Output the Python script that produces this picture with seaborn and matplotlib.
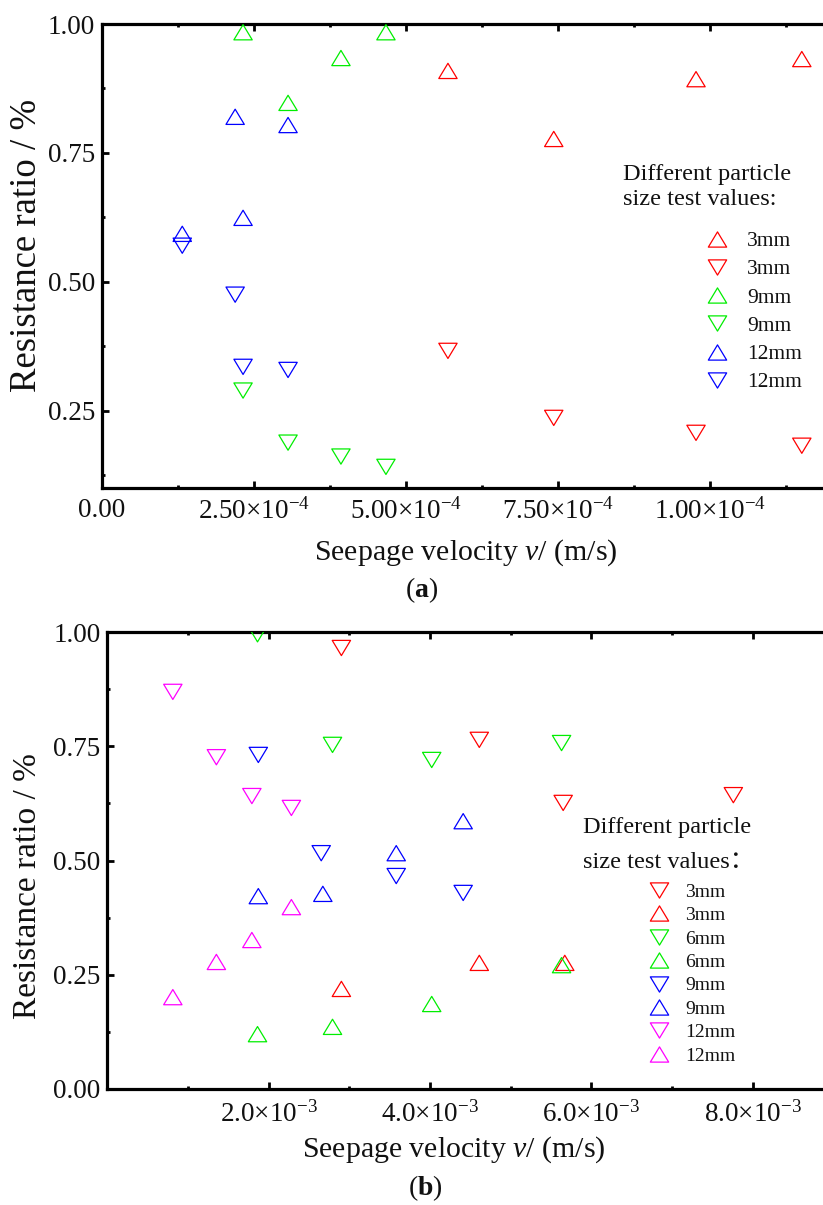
import matplotlib
matplotlib.use("Agg")
import matplotlib.pyplot as plt
from matplotlib.path import Path
from matplotlib.lines import Line2D
from matplotlib.ticker import FixedLocator
import seaborn as sns

# ---------------- panel (a): particle sizes 3, 9, 12 mm ----------------
a_x_3mm = [5.69e-4, 7.43e-4, 9.77e-4, 1.151e-3]
a_up_3mm = [0.909, 0.777, 0.893, 0.932]
a_down_3mm = [0.366, 0.236, 0.207, 0.182]

a_x_9mm = [2.32e-4, 3.06e-4, 3.93e-4, 4.67e-4]
a_up_9mm = [0.984, 0.847, 0.934, 0.984]
a_down_9mm = [0.289, 0.188, 0.161, 0.141]

a_x_12mm = [1.32e-4, 2.19e-4, 2.32e-4, 3.06e-4]
a_up_12mm = [0.593, 0.820, 0.624, 0.804]
a_down_12mm = [0.570, 0.475, 0.335, 0.329]

a_xticks = [0.0, 2.5e-4, 5.0e-4, 7.5e-4, 1.0e-3]
a_xticklabels = ["0.00",
                 r"$\mathregular{2.50{\times}10^{-4}}$",
                 r"$\mathregular{5.00{\times}10^{-4}}$",
                 r"$\mathregular{7.50{\times}10^{-4}}$",
                 r"$\mathregular{1.00{\times}10^{-4}}$"]
a_xminor = [1.25e-4, 3.75e-4, 6.25e-4, 8.75e-4, 1.125e-3]
a_yticks = [0.25, 0.50, 0.75, 1.00]
a_yticklabels = ["0.25", "0.50", "0.75", "1.00"]
a_yminor = [0.125, 0.375, 0.625, 0.875]

# ---------------- panel (b): particle sizes 3, 6, 9, 12 mm ----------------
b_x_down_3mm = [2.90e-3, 4.61e-3, 5.65e-3, 7.76e-3]
b_down_3mm = [0.965, 0.764, 0.626, 0.643]
b_x_up_3mm = [2.90e-3, 4.61e-3, 5.67e-3]
b_up_3mm = [0.219, 0.276, 0.276]

b_x_6mm = [1.86e-3, 2.79e-3, 4.02e-3, 5.63e-3]
b_down_6mm = [0.995, 0.753, 0.720, 0.757]
b_up_6mm = [0.120, 0.136, 0.186, 0.271]

b_x_down_9mm = [1.87e-3, 2.65e-3, 3.58e-3, 4.41e-3]
b_down_9mm = [0.731, 0.516, 0.466, 0.429]
b_x_up_9mm = [1.87e-3, 2.67e-3, 3.58e-3, 4.41e-3]
b_up_9mm = [0.422, 0.427, 0.516, 0.586]

b_x_12mm = [0.81e-3, 1.35e-3, 1.79e-3, 2.28e-3]
b_down_12mm = [0.869, 0.726, 0.641, 0.615]
b_up_12mm = [0.201, 0.278, 0.326, 0.398]

b_xticks = [2e-3, 4e-3, 6e-3, 8e-3]
b_xticklabels = [r"$\mathregular{2.0{\times}10^{-3}}$",
                 r"$\mathregular{4.0{\times}10^{-3}}$",
                 r"$\mathregular{6.0{\times}10^{-3}}$",
                 r"$\mathregular{8.0{\times}10^{-3}}$"]
b_xminor = [1e-3, 3e-3, 5e-3, 7e-3]
b_yticks = [0.00, 0.25, 0.50, 0.75, 1.00]
b_yticklabels = ["0.00", "0.25", "0.50", "0.75", "1.00"]
b_yminor = [0.125, 0.375, 0.625, 0.875]

RED, GREEN, BLUE, MAGENTA = "#ff0000", "#00ee00", "#0000ff", "#ff00ff"

sns.set_theme(style="ticks")
plt.rcParams.update({
    "font.family": ["Liberation Serif", "DejaVu Serif"],
    "mathtext.fontset": "custom",
    "mathtext.rm": "Liberation Serif",
    "mathtext.it": "Liberation Serif:italic",
    "mathtext.bf": "Liberation Serif:bold",
    "text.color": "#111111",
    "axes.edgecolor": "black",
    "axes.linewidth": 2.3,
    "xtick.color": "black",
    "ytick.color": "black",
    "xtick.labelcolor": "#111111",
    "ytick.labelcolor": "#111111",
})

# open triangles, a little wider than tall
H_TRI = 0.83
UP = Path([(0, H_TRI), (-1, -H_TRI), (1, -H_TRI), (0, H_TRI)], closed=True)
DOWN = Path([(0, -H_TRI), (-1, H_TRI), (1, H_TRI), (0, -H_TRI)], closed=True)
MS = 13.2          # marker width in points
LW = 0.9

W, H = 823, 1205
fig = plt.figure(figsize=(W / 100, H / 100), dpi=100)
fig.patch.set_facecolor("white")


def axes_px(left, top, right, bottom):
    return fig.add_axes([left / W, 1 - bottom / H, (right - left) / W, (bottom - top) / H])


def draw(ax, xs, ys, marker, color):
    sns.scatterplot(x=xs, y=ys, ax=ax, marker=marker, s=MS ** 2,
                    facecolor="none", edgecolor=color, linewidth=LW,
                    legend=False, zorder=3)


def handle(marker, color):
    return Line2D([], [], linestyle="none", marker=marker, markersize=MS,
                  markerfacecolor="none", markeredgecolor=color,
                  markeredgewidth=LW)


def style_axes(ax, xlim, ylim, xt, xtl, xmin, yt, ytl, ymin, xpad, ypad):
    ax.set_facecolor("white")
    ax.set_xlim(*xlim)
    ax.set_ylim(*ylim)
    ax.set_xticks(xt, xtl)
    ax.set_yticks(yt, ytl)
    ax.xaxis.set_minor_locator(FixedLocator(xmin))
    ax.yaxis.set_minor_locator(FixedLocator(ymin))
    ax.tick_params(which="both", direction="in", top=True, right=False,
                   labeltop=False, labelright=False)
    ax.tick_params(which="major", length=5, width=2.0, labelsize=19.5)
    ax.tick_params(which="minor", length=2.2, width=2.0)
    ax.tick_params(axis="x", which="major", pad=xpad)
    ax.tick_params(axis="y", which="major", pad=ypad)
    ax.set_xlabel("")
    ax.set_ylabel("")
    for sp in ax.spines.values():
        sp.set_linewidth(2.3)


# ---------------- panel (a) ----------------
ax_a = axes_px(102, 24, 102 + 5 * 152, 488)
draw(ax_a, a_x_3mm, a_up_3mm, UP, RED)
draw(ax_a, a_x_3mm, a_down_3mm, DOWN, RED)
draw(ax_a, a_x_9mm, a_up_9mm, UP, GREEN)
draw(ax_a, a_x_9mm, a_down_9mm, DOWN, GREEN)
draw(ax_a, a_x_12mm, a_up_12mm, UP, BLUE)
draw(ax_a, a_x_12mm, a_down_12mm, DOWN, BLUE)
style_axes(ax_a, (0, 1.25e-3), (0.10, 1.00), a_xticks, a_xticklabels, a_xminor,
           a_yticks, a_yticklabels, a_yminor, xpad=7, ypad=5)

a_handles = [handle(UP, RED), handle(DOWN, RED), handle(UP, GREEN),
             handle(DOWN, GREEN), handle(UP, BLUE), handle(DOWN, BLUE)]
a_labels = ["3mm", "3mm", "9mm", "9mm", "12mm", "12mm"]
ax_a.legend(a_handles, a_labels, loc="upper left",
            bbox_to_anchor=(706 / W, 1 - 231 / H), bbox_transform=fig.transFigure,
            frameon=False, fontsize=15.5, handlelength=1.0, handletextpad=0.9,
            labelspacing=0.38, borderpad=0, borderaxespad=0)
fig.text(623 / W, 1 - 180 / H, "Different particle", fontsize=17.5,
         ha="left", va="baseline")
fig.text(623 / W, 1 - 205 / H, "size test values:", fontsize=17.5,
         ha="left", va="baseline")

fig.text(27 / W, 1 - 245 / H, "Resistance ratio / %", rotation=90,
         fontsize=26.5, ha="center", va="center")
fig.text(466 / W, 1 - 553 / H, r"Seepage velocity $v$/ (m/s)", fontsize=21.5,
         ha="center", va="center")
fig.text(422 / W, 1 - 590 / H, r"($\mathbf{a}$)", fontsize=20,
         ha="center", va="center")

# ---------------- panel (b) ----------------
ax_b = axes_px(107.5, 632, 107.5 + 4.5 * 161.3, 1089)
draw(ax_b, b_x_down_3mm, b_down_3mm, DOWN, RED)
draw(ax_b, b_x_up_3mm, b_up_3mm, UP, RED)
draw(ax_b, b_x_6mm, b_down_6mm, DOWN, GREEN)
draw(ax_b, b_x_6mm, b_up_6mm, UP, GREEN)
draw(ax_b, b_x_down_9mm, b_down_9mm, DOWN, BLUE)
draw(ax_b, b_x_up_9mm, b_up_9mm, UP, BLUE)
draw(ax_b, b_x_12mm, b_down_12mm, DOWN, MAGENTA)
draw(ax_b, b_x_12mm, b_up_12mm, UP, MAGENTA)
style_axes(ax_b, (0, 9e-3), (0.0, 1.0), b_xticks, b_xticklabels, b_xminor,
           b_yticks, b_yticklabels, b_yminor, xpad=9, ypad=5)

b_handles = [handle(DOWN, RED), handle(UP, RED), handle(DOWN, GREEN),
             handle(UP, GREEN), handle(DOWN, BLUE), handle(UP, BLUE),
             handle(DOWN, MAGENTA), handle(UP, MAGENTA)]
b_labels = ["3mm", "3mm", "6mm", "6mm", "9mm", "9mm", "12mm", "12mm"]
ax_b.legend(b_handles, b_labels, loc="upper left",
            bbox_to_anchor=(649 / W, 1 - 883 / H), bbox_transform=fig.transFigure,
            frameon=False, fontsize=14, handlelength=1.0, handletextpad=0.86,
            labelspacing=0.30, borderpad=0, borderaxespad=0)
fig.text(583 / W, 1 - 833 / H, "Different particle", fontsize=17.5,
         ha="left", va="baseline")
fig.text(583 / W, 1 - 868 / H, "size test values：", fontsize=17.5,
         ha="left", va="baseline", family=["Liberation Serif", "Noto Sans CJK SC"])

fig.text(28 / W, 1 - 886 / H, "Resistance ratio / %", rotation=90,
         fontsize=24, ha="center", va="center")
fig.text(454 / W, 1 - 1150 / H, r"Seepage velocity $v$/ (m/s)", fontsize=21.5,
         ha="center", va="center")
fig.text(425 / W, 1 - 1188 / H, r"($\mathbf{b}$)", fontsize=20,
         ha="center", va="center")

fig.savefig("out.png", dpi=100, facecolor="white")
